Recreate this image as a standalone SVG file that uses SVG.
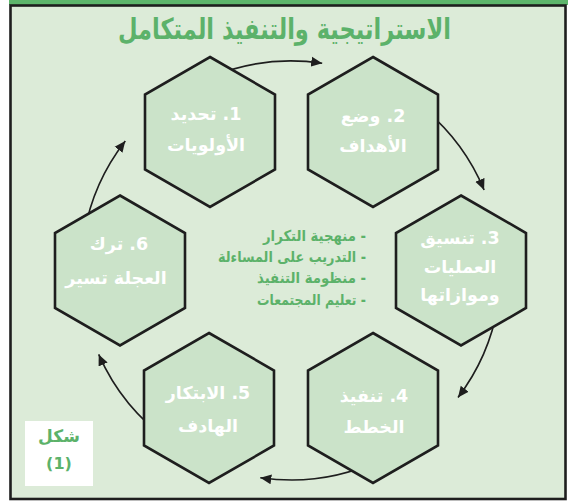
<svg xmlns="http://www.w3.org/2000/svg" width="568" height="501" viewBox="0 0 568 501">
<style>
.hex{fill:#cbe3c9;stroke:#1e1e1e;stroke-width:2.6;stroke-linejoin:miter}
.ht{font-family:"DejaVu Sans","Noto Sans",sans-serif;font-weight:bold;font-size:17.5px;fill:#ffffff;text-anchor:middle;direction:rtl;unicode-bidi:embed}
.gt{font-family:"DejaVu Sans","Noto Sans",sans-serif;font-weight:bold;fill:#5cb26a;direction:rtl;unicode-bidi:embed}
.li{font-size:15px;text-anchor:start}
.arc{fill:none;stroke:#1e1e1e;stroke-width:1.6;marker-end:url(#ah)}
</style>
<defs>
<marker id="ah" viewBox="0 0 10 10" refX="10" refY="5" markerWidth="11" markerHeight="11" markerUnits="userSpaceOnUse" orient="auto">
<path d="M0,0.5 L10,5 L0,9.5 Z" fill="#1e1e1e"/>
</marker>
</defs>
<rect x="0" y="0" width="568" height="501" fill="#ffffff"/>
<rect x="9" y="0" width="559" height="5" fill="#5db56b"/>
<rect x="10.5" y="5.5" width="555" height="493.5" fill="#dcebd8" stroke="#1e1e1e" stroke-width="2.6"/>
<text class="gt" x="284.5" y="39" font-size="29" text-anchor="middle" textLength="333" lengthAdjust="spacingAndGlyphs">الاستراتيجية والتنفيذ المتكامل</text>

<g id="connectors">
<path class="arc" d="M212.7,76.2 A210,210 0 0 1 322.2,63.3"/>
<path class="arc" d="M425.3,109.9 A210,210 0 0 1 484.1,190.0"/>
<path class="arc" d="M497.8,306.5 A210,210 0 0 1 458.0,397.4"/>
<path class="arc" d="M379.7,460.3 A210,210 0 0 1 260.3,477.7"/>
<path class="arc" d="M170.5,442.0 A210,210 0 0 1 98.7,354.4"/>
<path class="arc" d="M84.2,233.5 A210,210 0 0 1 125.3,141.0"/>
</g>

<g id="n1">
<polygon class="hex" points="210,57 275,94.5 275,169.5 210,207 145,169.5 145,94.5"/>
<text class="ht" x="206" y="120">1. تحديد</text>
<text class="ht" x="206" y="151">الأولويات</text>
</g>
<g id="n2">
<polygon class="hex" points="373,57 438,94.5 438,169.5 373,207 308,169.5 308,94.5"/>
<text class="ht" x="373" y="122">2. وضع</text>
<text class="ht" x="373" y="152">الأهداف</text>
</g>
<g id="n3">
<polygon class="hex" points="461,195.5 526,233 526,308 461,345.5 396,308 396,233"/>
<text class="ht" x="460" y="244">3. تنسيق</text>
<text class="ht" x="460" y="273">العمليات</text>
<text class="ht" x="460" y="301">وموازاتها</text>
</g>
<g id="n4">
<polygon class="hex" points="373,333 438,370.5 438,445.5 373,483 308,445.5 308,370.5"/>
<text class="ht" x="374" y="402">4. تنفيذ</text>
<text class="ht" x="374" y="433">الخطط</text>
</g>
<g id="n5">
<polygon class="hex" points="209,333 274,370.5 274,445.5 209,483 144,445.5 144,370.5"/>
<text class="ht" x="208" y="399">5. الابتكار</text>
<text class="ht" x="208" y="432">الهادف</text>
</g>
<g id="n6">
<polygon class="hex" points="120,195.5 185,233 185,308 120,345.5 55,308 55,233"/>
<text class="ht" x="119" y="250">6. ترك</text>
<text class="ht" x="116" y="284">العجلة تسير</text>
</g>

<g id="list">
<text class="gt li" x="366" y="241" textLength="103" lengthAdjust="spacingAndGlyphs">- منهجية التكرار</text>
<text class="gt li" x="366" y="262" textLength="148" lengthAdjust="spacingAndGlyphs">- التدريب على المساءلة</text>
<text class="gt li" x="366" y="283" textLength="109" lengthAdjust="spacingAndGlyphs">- منظومة التنفيذ</text>
<text class="gt li" x="366" y="305" textLength="109" lengthAdjust="spacingAndGlyphs">- تعليم المجتمعات</text>
</g>

<g id="caption">
<rect x="25" y="421" width="68" height="65" fill="#ffffff"/>
<text class="gt" x="59" y="442" font-size="17" text-anchor="middle">شكل</text>
<text class="gt" x="59" y="469" font-size="16" text-anchor="middle">(1)</text>
</g>
</svg>
